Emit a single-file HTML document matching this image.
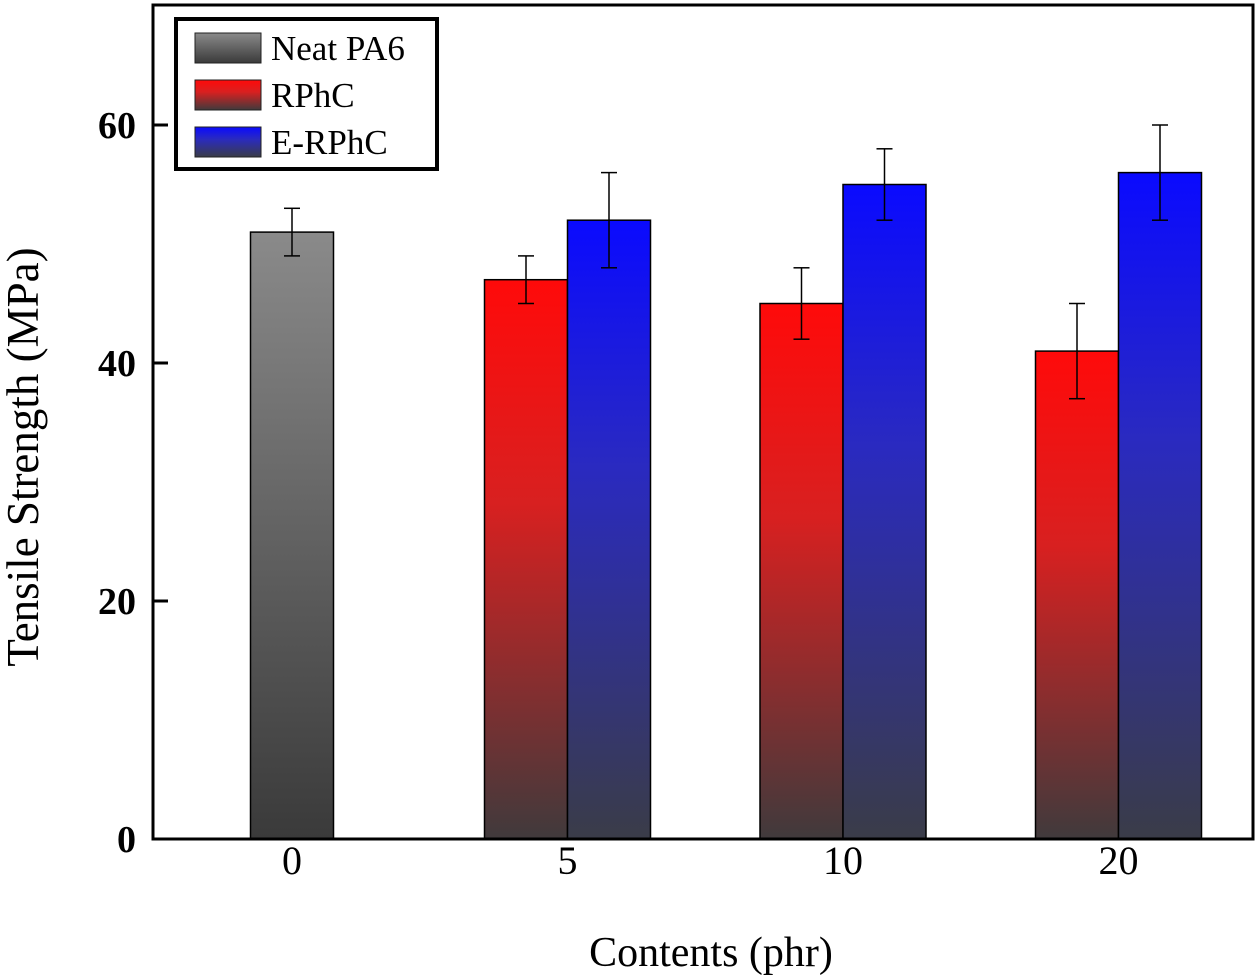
<!DOCTYPE html>
<html><head><meta charset="utf-8"><style>
body{margin:0;background:#fff}
svg{display:block;font-family:"Liberation Serif",serif}
</style></head><body>
<svg id="chart" width="1260" height="979">
<defs>
<linearGradient id="gGray" x1="0" y1="0" x2="0" y2="1"><stop offset="0" stop-color="#8a8a8a"/><stop offset="1" stop-color="#3a3a3a"/></linearGradient>
<linearGradient id="gRed" x1="0" y1="0" x2="0" y2="1"><stop offset="0" stop-color="#ff0a0a"/><stop offset="0.4" stop-color="#d82020"/><stop offset="1" stop-color="#403a3c"/></linearGradient>
<linearGradient id="gBlue" x1="0" y1="0" x2="0" y2="1"><stop offset="0" stop-color="#0a0aff"/><stop offset="0.4" stop-color="#2a2ac0"/><stop offset="1" stop-color="#3a3c48"/></linearGradient>
</defs>
<g id="bars"></g>
<rect x="153" y="5" width="1100" height="834" fill="none" stroke="#000" stroke-width="3"/>
<g id="axes"></g>
<text x="38" y="457" font-size="45" text-anchor="middle" transform="rotate(-90 38 457)">Tensile Strength (MPa)</text>
<text x="711" y="966" font-size="42" text-anchor="middle">Contents (phr)</text>
<g>
<rect x="176" y="19" width="261" height="150" fill="#fff" stroke="#000" stroke-width="4"/>
<g><rect x="195" y="33" width="66" height="30" fill="url(#gGray)" stroke="#222"/><text x="271" y="60" font-size="35">Neat PA6</text></g>
<g><rect x="195" y="80" width="66" height="30" fill="url(#gRed)" stroke="#222"/><text x="271" y="107" font-size="35">RPhC</text></g>
<g><rect x="195" y="127" width="66" height="30" fill="url(#gBlue)" stroke="#222"/><text x="271" y="154" font-size="35">E-RPhC</text></g>
</g>
</svg>
<script>
const categories=["0","5","10","20"];
const neatVals=[51,null,null,null];
const neatErr=[2,null,null,null];
const rphcVals=[null,47,45,41];
const rphcErr=[null,2,3,4];
const erphcVals=[null,52,55,56];
const erphcErr=[null,4,3,4];
const yTicks=[0,20,40,60];
const NS="http://www.w3.org/2000/svg";
const y=v=>839-v*(714/60);
const xc=i=>292+i*275.5;
const bw=83;
const bars=document.getElementById('bars'),axes=document.getElementById('axes');
function mk(t,a,p){const e=document.createElementNS(NS,t);for(const k in a)e.setAttribute(k,a[k]);p.appendChild(e);return e;}
function series(vals,errs,fill,off,name){
vals.forEach((v,i)=>{if(v==null)return;
const x0=xc(i)+off;
const r=mk('rect',{x:x0,y:y(v),width:bw,height:839-y(v),fill:fill,stroke:'#000','stroke-width':1.5},bars);


const cx=x0+bw/2,e=errs[i];
const g=mk('g',{stroke:'#000','stroke-width':1.5},bars);


mk('line',{x1:cx,x2:cx,y1:y(v+e),y2:y(v-e)},g);
mk('line',{x1:cx-8,x2:cx+8,y1:y(v+e),y2:y(v+e)},g);
mk('line',{x1:cx-8,x2:cx+8,y1:y(v-e),y2:y(v-e)},g);
});}
series(neatVals,neatErr,'url(#gGray)',-41.5,'neat-pa6');
series(rphcVals,rphcErr,'url(#gRed)',-83,'rphc');
series(erphcVals,erphcErr,'url(#gBlue)',0,'e-rphc');
yTicks.forEach(t=>{
const l=mk('line',{x1:153,x2:168,y1:y(t),y2:y(t),stroke:'#000','stroke-width':3},axes);


const tx=mk('text',{x:136,y:y(t)+13,'font-size':38,'font-weight':'bold','text-anchor':'end'},axes);
tx.textContent=t;


});
categories.forEach((c,i)=>{
const tx=mk('text',{x:xc(i),y:874,'font-size':40,'text-anchor':'middle'},axes);
tx.textContent=c;


});
</script>
</body></html>
